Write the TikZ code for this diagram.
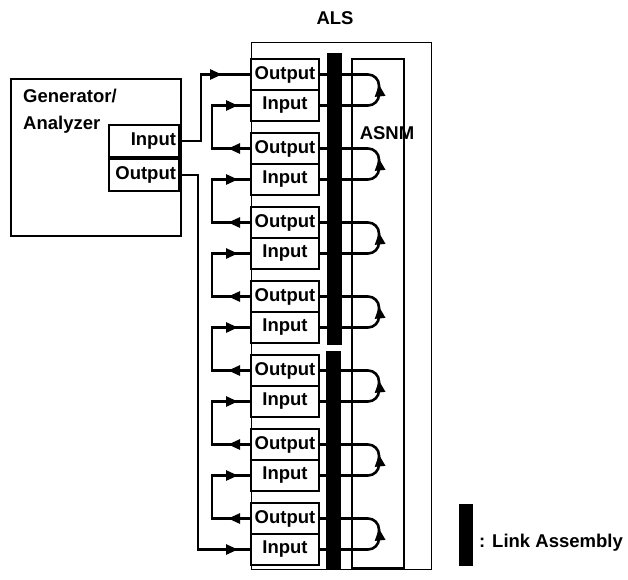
\documentclass[tikz,border=0pt]{standalone}
\usepackage{fontspec}
\setmainfont{Liberation Sans}
\usetikzlibrary{positioning,arrows.meta,decorations.markings}
\newcommand{\lblfont}{\bfseries\fontsize{18.5}{27}\selectfont}

\begin{document}
\begin{tikzpicture}[
  x=1pt, y=-1pt,
  every node/.style={font=\lblfont, inner sep=0pt},
  box/.style={draw, line width=2pt},
  port/.style={box, minimum width=68pt, minimum height=31pt},
  genport/.style={box, text width=64pt, align=right, inner xsep=3pt, minimum height=32pt},
  bar/.style={fill=black, minimum width=15pt},
  wire/.style={line width=2.6pt},
  midtip/.style={postaction={decorate}, decoration={markings,
    mark=at position #1 with {\arrow{Triangle[length=12pt,width=10pt]}}}},
  twotips/.style={postaction={decorate}, decoration={markings,
    mark=at position 22pt with {\arrow{Triangle[length=12pt,width=10pt]}},
    mark=at position -12pt with {\arrow{Triangle[length=12pt,width=10pt]}}}}
]
  \useasboundingbox (0,0) rectangle (628,579);

  % generator / analyzer
  \node[box, anchor=north west, minimum width=170pt, minimum height=157pt] (gen) at (10,78) {};
  \node[anchor=north west, align=left] (genlabel) at (23,89) {Generator/\\Analyzer};
  \node[genport, anchor=north east] (genin) at (180,124) {Input};
  \node[genport, anchor=north east] (genout) at (genin.south east) {Output};

  % ALS with link assembly and ASNM
  \node[draw, line width=1.3pt, anchor=north west, minimum width=180pt, minimum height=527pt] (als) at (251,42) {};
  \node (alslabel) at (335,18) {ALS};
  \node[bar, anchor=north west, minimum height=292pt] (link1) at (327,53) {};
  \node[bar, anchor=north west, minimum height=218pt] (link2) at (326,351) {};
  \node[box, anchor=north west, minimum width=52pt, minimum height=509pt] (asnm) at (351,58) {};
  \node (asnmlabel) at (387,133) {ASNM};

  \foreach \k in {1,...,7}{
    \pgfmathsetmacro\yo{74.5+74*(\k-1)}
    \pgfmathsetmacro\yi{\yo+31}
    \node[port] (out\k) at (285,\yo) {Output};
    \node[port] (in\k) at (285,\yi) {Input};
    \draw[wire, rounded corners=11pt, midtip=0.54] (in\k.east) -- (379,\yi) -- (379,\yo) -- (out\k.east);
  }

  % loops between neighbouring pairs
  \foreach \k [evaluate=\k as \j using int(\k+1)] in {1,...,6}
    \draw[wire, twotips] (out\j.west) -- ++(-38,0) |- (in\k.west);

  % generator to ALS
  \draw[wire, midtip=-28pt] (genin.east) -| (201,74.5) -- (out1.west);
  \draw[wire, midtip=-12pt] (genout.east) -| (198,549.5) -- (in7.west);

  % legend
  \node[bar, anchor=north west, minimum width=14pt, minimum height=62pt] (legendbar) at (459,504) {};
  \node[anchor=west] (legendtext) at (479,543) {: Link Assembly};
\end{tikzpicture}
\end{document}
